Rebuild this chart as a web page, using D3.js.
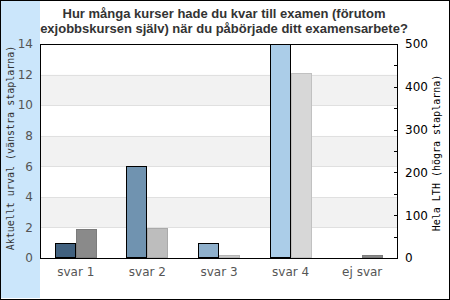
<!DOCTYPE html>
<html>
<head>
<meta charset="utf-8">
<script src="https://d3js.org/d3.v7.min.js"></script>
<style>
  body { margin: 0; padding: 0; overflow: hidden; background: #fff; }
  text { font-family: "DejaVu Sans", sans-serif; }
</style>
</head>
<body>
<svg id="chart" width="450" height="300"></svg>
<script>
// data
var categories = ["svar 1", "svar 2", "svar 3", "svar 4", "ej svar"];
var urval = [1, 6, 1, 14, 0];            // left axis
var helaLth = [68, 70, 7, 432, 6];       // right axis
var leftColors = ["#41617f", "#7093b0", "#8fb0cc", "#abcde8", "#abcde8"];
var rightColors = ["#8a8a8a", "#bdbdbd", "#c9c9c9", "#d7d7d7", "#8a8a8a"];
var leftTicks = [0, 2, 4, 6, 8, 10, 12, 14];
var rightTicks = [0, 100, 200, 300, 400, 500];
var titleLines = ["Hur många kurser hade du kvar till examen (förutom",
                  "exjobbskursen själv) när du påbörjade ditt examensarbete?"];

var W = 450, H = 300;
var margin = {top: 44, right: 52, bottom: 42, left: 40};
var svg = d3.select("#chart");

svg.append("rect").attr("x", 0.5).attr("y", 0.5).attr("width", W - 1).attr("height", H - 1)
  .attr("fill", "#fff").attr("stroke", "#000");
svg.append("rect").attr("x", 1).attr("y", 1).attr("width", 39).attr("height", H - 3)
  .attr("fill", "#cbe6fb");

var x = d3.scaleBand().domain(categories).range([margin.left, W - margin.right]);
var yL = d3.scaleLinear().domain([0, 14]).range([H - margin.bottom, margin.top]);
var yR = d3.scaleLinear().domain([0, 500]).range([H - margin.bottom, margin.top]);

// background bands
var bands = d3.range(0, 14, 2);
svg.append("g").selectAll("rect").data(bands).join("rect")
  .attr("x", margin.left).attr("width", W - margin.right - margin.left)
  .attr("y", d => yL(d + 2)).attr("height", d => yL(d) - yL(d + 2))
  .attr("fill", (d, i) => i % 2 ? "#f2f2f2" : "#fff");
svg.append("g").selectAll("line").data(leftTicks.slice(1, -1)).join("line")
  .attr("x1", margin.left).attr("x2", W - margin.right)
  .attr("y1", d => Math.round(yL(d)) + 0.5).attr("y2", d => Math.round(yL(d)) + 0.5)
  .attr("stroke", "#e0e0e0");

// bars
var bw = 21;
var g = svg.append("g");
categories.forEach(function(c, i) {
  var cx = Math.round(x(c) + x.bandwidth() / 2);
  if (urval[i] > 0) {
    g.append("rect").attr("x", cx - bw + 0.5).attr("width", bw - 1)
      .attr("y", Math.round(yL(urval[i])) + 0.5).attr("height", yL(0) - Math.round(yL(urval[i])) - 1)
      .attr("fill", leftColors[i]).attr("stroke", "#000");
  }
  if (helaLth[i] > 0) {
    g.append("rect").attr("x", cx + 0.5).attr("width", bw - 1)
      .attr("y", Math.round(yR(helaLth[i])) + 0.5).attr("height", yR(0) - Math.round(yR(helaLth[i])) - 1)
      .attr("fill", rightColors[i]).attr("stroke", d3.color(rightColors[i]).darker(0.3));
  }
});

// plot frame
svg.append("rect").attr("x", margin.left + 0.5).attr("y", margin.top + 0.5)
  .attr("width", W - margin.right - margin.left - 1).attr("height", H - margin.bottom - margin.top)
  .attr("fill", "none").attr("stroke", "#000");

// axes
var axL = svg.append("g").attr("transform", "translate(" + margin.left + ",0)")
  .call(d3.axisLeft(yL).tickValues(leftTicks).tickSize(0).tickPadding(7));
axL.select(".domain").remove();
axL.selectAll("text").attr("fill", "#555").style("font-size", "12px");

var axR = svg.append("g").attr("transform", "translate(" + (W - margin.right) + ",0)")
  .call(d3.axisRight(yR).tickValues(rightTicks).tickSize(0).tickPadding(7));
axR.select(".domain").remove();
axR.selectAll("text").attr("fill", "#000").style("font-size", "12px");
svg.append("g").selectAll("line").data(d3.range(50, 500, 50)).join("line")
  .attr("x1", W - margin.right - 4).attr("x2", W - margin.right)
  .attr("y1", d => Math.round(yR(d)) + 0.5).attr("y2", d => Math.round(yR(d)) + 0.5)
  .attr("stroke", "#000");

var axX = svg.append("g").attr("transform", "translate(0," + (H - margin.bottom) + ")")
  .call(d3.axisBottom(x).tickSize(0).tickPadding(9));
axX.select(".domain").remove();
axX.selectAll("text").attr("fill", "#555").style("font-size", "12px");

// axis titles
svg.append("text").attr("transform", "translate(14,148) rotate(-90)")
  .attr("text-anchor", "middle").style("font-family", "DejaVu Sans Mono").style("font-size", "10px")
  .attr("fill", "#333").text("Aktuellt urval (vänstra staplarna)");
svg.append("text").attr("transform", "translate(440,153) rotate(-90)")
  .attr("text-anchor", "middle").style("font-family", "DejaVu Sans Mono").style("font-size", "10px")
  .attr("fill", "#000").text("Hela LTH (högra staplarna)");

// title
svg.append("g").selectAll("text").data(titleLines).join("text")
  .attr("x", 224).attr("y", (d, i) => 18 + i * 15)
  .attr("text-anchor", "middle")
  .style("font-family", "Liberation Sans, Arial, sans-serif").style("font-weight", "bold").style("font-size", "13px")
  .attr("fill", "#333").text(d => d);
</script>
</body>
</html>
